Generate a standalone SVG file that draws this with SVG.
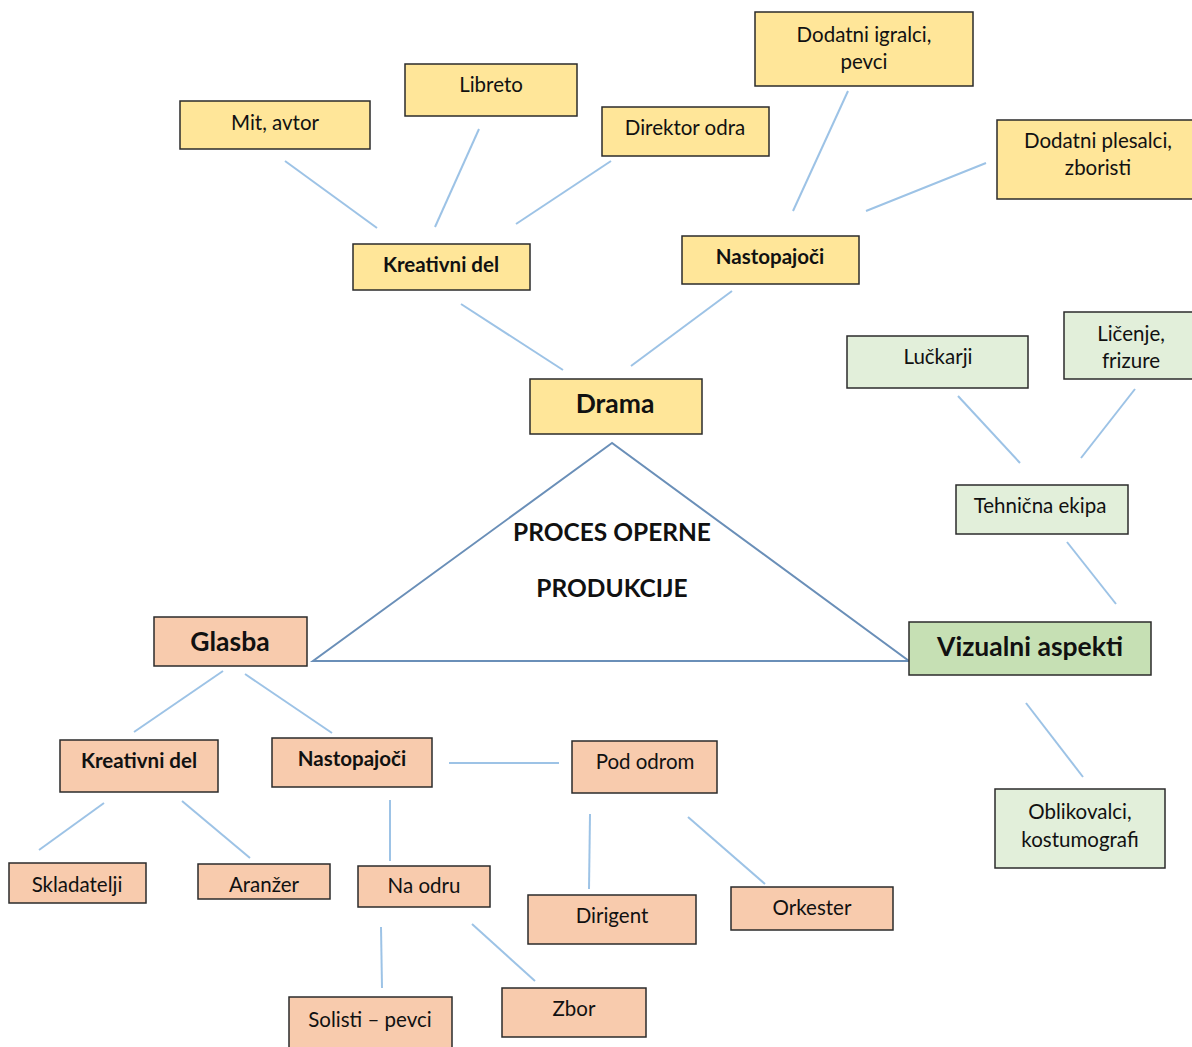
<svg xmlns="http://www.w3.org/2000/svg" width="1192" height="1047" viewBox="0 0 1192 1047">
<style>
.y{fill:#FFE699;stroke:#2b2b2b;stroke-width:1.5}
.g{fill:#E2EFDA;stroke:#2b2b2b;stroke-width:1.5}
.gd{fill:#C6E0B4;stroke:#2b2b2b;stroke-width:1.5}
.o{fill:#F8CBAD;stroke:#2b2b2b;stroke-width:1.5}
text{font-family:Lato,"Open Sans","Liberation Sans",sans-serif;fill:#111;text-anchor:middle;font-size:20.5px}
.b{font-weight:bold}
.L{font-weight:bold;font-size:26.5px}
.c line{stroke:#9DC3E6;stroke-width:2}
.t{fill:none;stroke:#6A8FB8;stroke-width:2}
</style>
<rect width="1192" height="1047" fill="#fff"/>
<g class="c" id="connectors">
<line x1="285" y1="161" x2="377" y2="228"/>
<line x1="479" y1="129" x2="435" y2="227"/>
<line x1="611" y1="161" x2="516" y2="224"/>
<line x1="848" y1="91" x2="793" y2="211"/>
<line x1="986" y1="163" x2="866" y2="211"/>
<line x1="461" y1="304" x2="563" y2="370"/>
<line x1="732" y1="291" x2="631" y2="366"/>
<line x1="958" y1="396" x2="1020" y2="463"/>
<line x1="1135" y1="389" x2="1081" y2="458"/>
<line x1="1067" y1="542" x2="1116" y2="604"/>
<line x1="1026" y1="703" x2="1083" y2="777"/>
<line x1="223" y1="671" x2="134" y2="732"/>
<line x1="245" y1="674" x2="332" y2="733"/>
<line x1="104" y1="803" x2="39" y2="850"/>
<line x1="182" y1="801" x2="250" y2="858"/>
<line x1="449" y1="763" x2="559" y2="763"/>
<line x1="390" y1="800" x2="390" y2="861"/>
<line x1="381" y1="927" x2="382" y2="988"/>
<line x1="472" y1="924" x2="535" y2="981"/>
<line x1="590" y1="814" x2="589" y2="889"/>
<line x1="688" y1="817" x2="765" y2="884"/>
</g>
<g id="triangle">
<polygon class="t" points="612,443 313,661 909,661"/>
<text class="b" x="612" y="541" style="font-size:24.5px">PROCES OPERNE</text>
<text class="b" x="612" y="597" style="font-size:24.5px">PRODUKCIJE</text>
</g>
<g id="mit"><rect class="y" x="180" y="101" width="190" height="48"/><text x="275" y="130">Mit, avtor</text></g>
<g id="libreto"><rect class="y" x="405" y="64" width="172" height="52"/><text x="491" y="92">Libreto</text></g>
<g id="direktor"><rect class="y" x="602" y="107" width="167" height="49"/><text x="685" y="135">Direktor odra</text></g>
<g id="igralci"><rect class="y" x="755" y="12" width="218" height="74"/><text x="864" y="42">Dodatni igralci,</text><text x="864" y="69">pevci</text></g>
<g id="plesalci"><rect class="y" x="997" y="120" width="197" height="79"/><text x="1098" y="148">Dodatni plesalci,</text><text x="1098" y="175">zboristi</text></g>
<g id="kreativni1"><rect class="y" x="353" y="244" width="177" height="46"/><text class="b" x="441" y="272">Kreativni del</text></g>
<g id="nastopajoci1"><rect class="y" x="682" y="236" width="177" height="48"/><text class="b" x="770" y="264">Nastopajoči</text></g>
<g id="drama"><rect class="y" x="530" y="379" width="172" height="55"/><text class="L" x="615" y="413">Drama</text></g>
<g id="luckarji"><rect class="g" x="847" y="336" width="181" height="52"/><text x="938" y="364">Lučkarji</text></g>
<g id="licenje"><rect class="g" x="1064" y="312" width="130" height="67"/><text x="1131" y="341">Ličenje,</text><text x="1131" y="368">frizure</text></g>
<g id="tehnicna"><rect class="g" x="956" y="485" width="172" height="49"/><text x="1040" y="513">Tehnična ekipa</text></g>
<g id="vizualni"><rect class="gd" x="909" y="622" width="242" height="53"/><text class="L" x="1030" y="656">Vizualni aspekti</text></g>
<g id="oblikovalci"><rect class="g" x="995" y="789" width="170" height="79"/><text x="1080" y="819">Oblikovalci,</text><text x="1080" y="847">kostumografi</text></g>
<g id="glasba"><rect class="o" x="154" y="617" width="153" height="49"/><text class="L" x="230" y="651">Glasba</text></g>
<g id="kreativni2"><rect class="o" x="60" y="740" width="158" height="52"/><text class="b" x="139" y="768">Kreativni del</text></g>
<g id="nastopajoci2"><rect class="o" x="272" y="738" width="160" height="49"/><text class="b" x="352" y="766">Nastopajoči</text></g>
<g id="skladatelji"><rect class="o" x="9" y="863" width="137" height="40"/><text x="77" y="892">Skladatelji</text></g>
<g id="aranzer"><rect class="o" x="198" y="864" width="132" height="35"/><text x="264" y="892">Aranžer</text></g>
<g id="naodru"><rect class="o" x="358" y="866" width="132" height="41"/><text x="424" y="893">Na odru</text></g>
<g id="solisti"><rect class="o" x="289" y="997" width="163" height="55"/><text x="370" y="1027">Solisti – pevci</text></g>
<g id="zbor"><rect class="o" x="502" y="988" width="144" height="49"/><text x="574" y="1016">Zbor</text></g>
<g id="pododrom"><rect class="o" x="572" y="741" width="145" height="52"/><text x="645" y="769">Pod odrom</text></g>
<g id="dirigent"><rect class="o" x="528" y="895" width="168" height="49"/><text x="612" y="923">Dirigent</text></g>
<g id="orkester"><rect class="o" x="731" y="887" width="162" height="43"/><text x="812" y="915">Orkester</text></g>
</svg>
